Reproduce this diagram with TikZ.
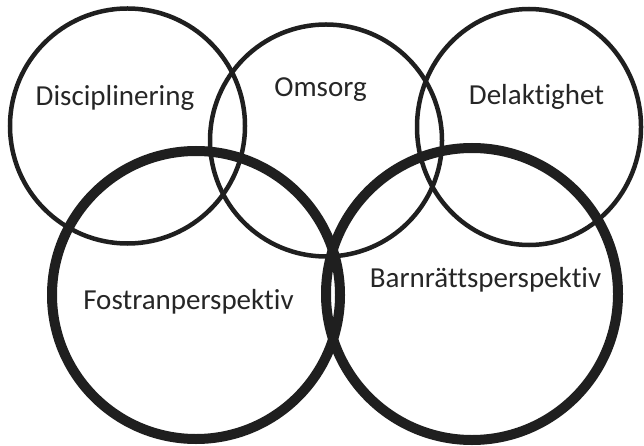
\documentclass[tikz,border=0pt]{standalone}
\usepackage{fontspec}
\setmainfont{Carlito}[Ligatures=NoCommon]
\usetikzlibrary{positioning}

\begin{document}
\begin{tikzpicture}[x=1pt, y=-1pt,
        thinring/.style={draw=black!88, line width=4.5pt},
        thickring/.style={draw=black!88, line width=10pt},
        label/.style={anchor=base, text=black!85, font=\fontsize{29}{34}\selectfont, inner sep=0pt}]
        \useasboundingbox (0,0) rectangle (644,446);

        % Draw upper rings
        \draw[thinring] (127.5,126) coordinate (c_1) circle [radius=117.5];
        \draw[thinring] (326,140.5) coordinate (c_2) circle [radius=116];
        \draw[thinring] (529,127) coordinate (c_3) ellipse [x radius=112, y radius=118];

        % Draw lower rings
        \draw[thickring] (196,295) coordinate (c_4) circle [radius=144];
        \draw[thickring] (472,294) coordinate (c_5) circle [radius=146];

        %labels
        \node[label] (disc) at (115,106) {Disciplinering};
        \node[label] (oms) at (320.5,97) {Omsorg};
        \node[label] (del) at (536.5,105) {Delaktighet};
        \node[label] (fos) at (188.5,309) {Fostranperspektiv};
        \node[label] (barn) at (485.5,287) {Barnrättsperspektiv};
    \end{tikzpicture}
\end{document}
